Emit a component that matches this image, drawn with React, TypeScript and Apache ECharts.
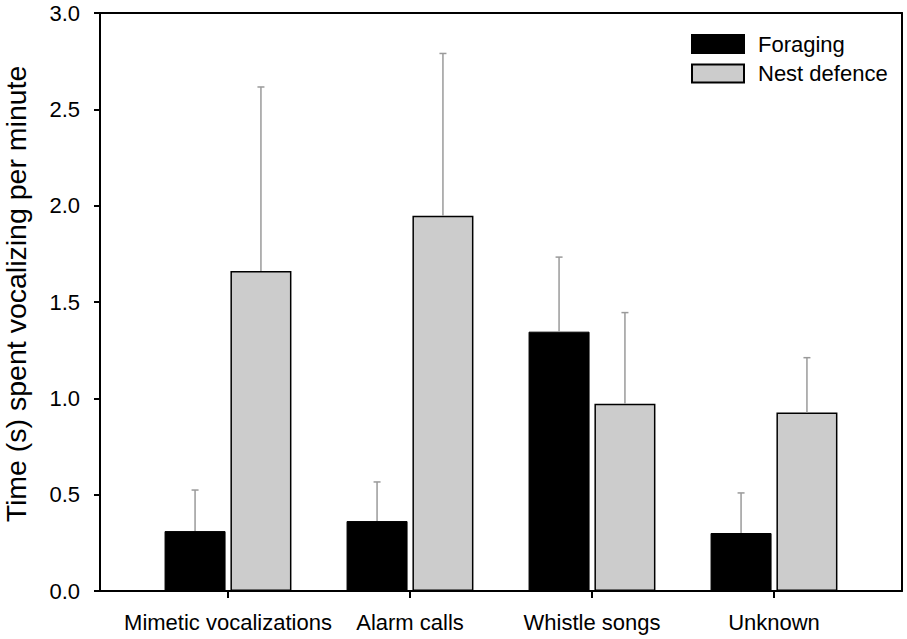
import React, { useEffect, useRef } from "react";
import * as echarts from "echarts";

const categories = ["Mimetic vocalizations", "Alarm calls", "Whistle songs", "Unknown"];
const seriesNames = ["Foraging", "Nest defence"];
const foraging = [0.311, 0.363, 1.346, 0.301];
const foragingErr = [0.213, 0.203, 0.387, 0.208];
const nestDefence = [1.661, 1.948, 0.972, 0.927];
const nestDefenceErr = [0.955, 0.842, 0.473, 0.284];
const yTicks = { min: 0, max: 3, interval: 0.5 };

const BAR_WIDTH = 61;
const BAR_GAP_RATIO = 0.08;
const X_TICK_LENGTH = 7;
const FONT = "Arial, 'Liberation Sans', sans-serif";

export default function App() {
  const ref = useRef<HTMLDivElement>(null);
  useEffect(() => {
    if (!ref.current) return;
    const chart = echarts.init(ref.current, null, { renderer: "svg" });
    const offset = (BAR_WIDTH * (1 + BAR_GAP_RATIO)) / 2;
    const errSeries = (name: string, means: number[], errs: number[], sign: number) => ({
      type: "custom",
      name: name + " error",
      xAxisIndex: 1,
      yAxisIndex: 1,
      z: 5,
      silent: true,
      data: means.map((m, i) => [i, m, m + errs[i]]),
      renderItem: (params: any, api: any) => {
        const i = api.value(0);
        const base = api.coord([i, api.value(1)]);
        const top = api.coord([i, api.value(2)]);
        const x = base[0] + sign * offset;
        const cap = 3.5;
        const style = { stroke: "#9a9a9a", lineWidth: 1.5 };
        return {
          type: "group",
          children: [
            { type: "line", shape: { x1: x, y1: base[1], x2: x, y2: top[1] }, style },
            { type: "line", shape: { x1: x - cap, y1: top[1], x2: x + cap, y2: top[1] }, style },
          ],
        };
      },
    });
    const frameLine = { show: true, onZero: false, lineStyle: { color: "#000", width: 2 } };
    chart.setOption({
      animation: false,
      backgroundColor: "#fff",
      textStyle: { fontFamily: FONT },
      legend: {
        data: seriesNames,
        orient: "vertical",
        left: 691,
        top: 33,
        padding: 0,
        icon: "rect",
        itemWidth: 52,
        itemHeight: 18,
        itemGap: 7.5,
        textStyle: { fontSize: 22, color: "#000", fontFamily: FONT, lineHeight: 18, padding: [0, 0, 0, 9] },
      },
      grid: [
        { left: 100, right: 5, top: 13, bottom: 48, show: false, outerBoundsMode: "none", containLabel: false },
        { left: 137, width: 728, top: 13, bottom: 48, outerBoundsMode: "none", containLabel: false },
      ],
      xAxis: [
        {
          type: "value", gridIndex: 0, position: "bottom", min: 0, max: 1,
          axisLine: frameLine, axisTick: { show: false }, axisLabel: { show: false }, splitLine: { show: false },
        },
        {
          type: "category",
          gridIndex: 1,
          position: "bottom",
          data: categories,
          axisLine: frameLine,
          axisTick: { show: true, alignWithLabel: true, interval: 0, inside: false, length: X_TICK_LENGTH, lineStyle: { color: "#000", width: 2 } },
          axisLabel: { color: "#000", fontSize: 22, margin: 20, interval: 0, fontFamily: FONT },
          splitLine: { show: false },
        },
        {
          type: "value", gridIndex: 0, position: "top", min: 0, max: 1,
          axisLine: frameLine, axisTick: { show: false }, axisLabel: { show: false }, splitLine: { show: false },
        },
      ],
      yAxis: [
        {
          type: "value",
          gridIndex: 0,
          position: "left",
          min: yTicks.min,
          max: yTicks.max,
          interval: yTicks.interval,
          name: "Time (s) spent vocalizing per minute",
          nameLocation: "middle",
          nameGap: 70,
          nameTextStyle: { fontSize: 28.5, color: "#000", fontFamily: FONT, padding: [0, 0, 0, 16] },
          axisLine: frameLine,
          axisTick: { show: true, length: 6, lineStyle: { color: "#000", width: 2 } },
          axisLabel: { color: "#000", fontSize: 22, margin: 20, fontFamily: FONT, formatter: (v: number) => v.toFixed(1) },
          splitLine: { show: false },
        },
        { type: "value", gridIndex: 1, min: yTicks.min, max: yTicks.max, show: false, splitLine: { show: false } },
        {
          type: "value", gridIndex: 0, position: "right", min: yTicks.min, max: yTicks.max,
          axisLine: frameLine, axisTick: { show: false }, axisLabel: { show: false }, splitLine: { show: false },
        },
      ],
      series: [
        {
          type: "bar",
          name: seriesNames[0],
          xAxisIndex: 1,
          yAxisIndex: 1,
          data: foraging,
          barWidth: BAR_WIDTH,
          barGap: BAR_GAP_RATIO * 100 + "%",
          itemStyle: { color: "#000", borderColor: "#000", borderWidth: 1 },
        },
        {
          type: "bar",
          name: seriesNames[1],
          xAxisIndex: 1,
          yAxisIndex: 1,
          data: nestDefence,
          barWidth: BAR_WIDTH,
          barGap: BAR_GAP_RATIO * 100 + "%",
          itemStyle: { color: "#cccccc", borderColor: "#000", borderWidth: 1.5 },
        },
        errSeries(seriesNames[0], foraging, foragingErr, -1),
        errSeries(seriesNames[1], nestDefence, nestDefenceErr, 1),
        {
          type: "custom",
          name: "category ticks",
          xAxisIndex: 1,
          yAxisIndex: 1,
          silent: true,
          clip: false,
          z: 6,
          data: categories.map((c, i) => [i, yTicks.min]),
          renderItem: (params: any, api: any) => {
            const p = api.coord([api.value(0), api.value(1)]);
            return {
              type: "line",
              shape: { x1: p[0], y1: p[1], x2: p[0], y2: p[1] + X_TICK_LENGTH },
              style: { stroke: "#000", lineWidth: 2 },
            };
          },
        },
      ],
    });
    return () => chart.dispose();
  }, []);
  return <div ref={ref} style={{ position: "fixed", left: 0, top: 0, width: 907, height: 639 }} />;
}
